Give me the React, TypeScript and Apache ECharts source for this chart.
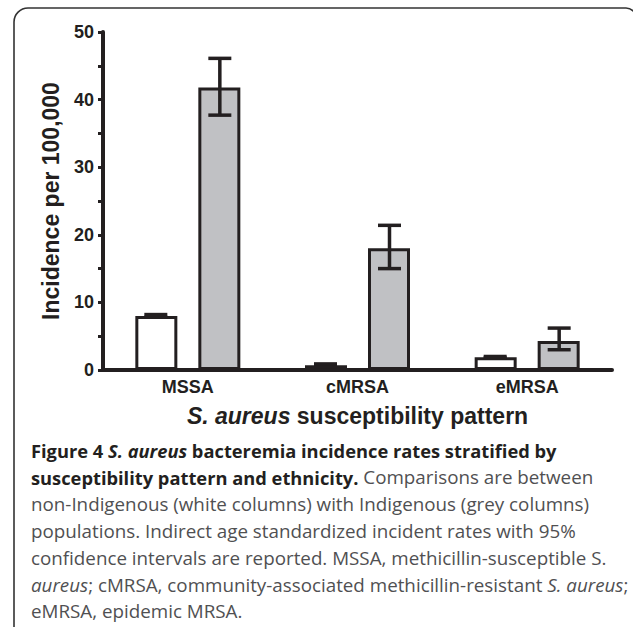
import React, { useEffect, useRef } from "react";
import * as echarts from "echarts";

const categories = ["MSSA", "cMRSA", "eMRSA"];
const nonIndigenous = [8.0, 0.7, 1.9];
const nonIndigenousLow = [7.8, 0.5, 1.8];
const nonIndigenousHigh = [8.2, 0.9, 2.0];
const indigenous = [41.8, 18.0, 4.3];
const indigenousLow = [37.7, 15.0, 3.0];
const indigenousHigh = [46.1, 21.4, 6.2];
const yTicks = { min: 0, max: 50, interval: 10 };

const captionLines: string[] = [
  "{b|Figure 4 }{bi|S. aureus}{b| bacteremia incidence rates stratified by}",
  "{b|susceptibility pattern and ethnicity.}{r| Comparisons are between}",
  "{r|non-Indigenous (white columns) with Indigenous (grey columns)}",
  "{r|populations. Indirect age standardized incident rates with 95%}",
  "{r|confidence intervals are reported. MSSA, methicillin-susceptible S.}",
  "{ri|aureus}{r|; cMRSA, community-associated methicillin-resistant }{ri|S. aureus}{r|;}",
  "{r|eMRSA, epidemic MRSA.}",
];

const INK = "#231f20";
const GREY = "#c0c1c4";
const CAP_FONT = "'Open Sans', sans-serif";
const B_SIZE = 18.3;
const R_SIZE = 18.8;

export default function App() {
  const ref = useRef<HTMLDivElement>(null);
  useEffect(() => {
    if (!ref.current) return;
    const chart = echarts.init(ref.current, undefined, { renderer: "svg" });
    const offsets = [-32, 32];
    const errData = (lo: number[], hi: number[]) =>
      categories.map((_, i) => [i, lo[i], hi[i]]);
    const makeErr = (si: number) => (params: any, api: any) => {
      const c = api.value(0);
      const lo = api.coord([c, api.value(1)]);
      const hi = api.coord([c, api.value(2)]);
      const x = lo[0] + offsets[si];
      const hw = 11.5;
      const st = { stroke: INK, lineWidth: 3.5 };
      return {
        type: "group",
        children: [
          { type: "line", shape: { x1: x, y1: lo[1], x2: x, y2: hi[1] }, style: st },
          { type: "line", shape: { x1: x - hw, y1: lo[1], x2: x + hw, y2: lo[1] }, style: st },
          { type: "line", shape: { x1: x - hw, y1: hi[1], x2: x + hw, y2: hi[1] }, style: st },
        ],
      };
    };
    const rich = {
      b: { fontFamily: CAP_FONT, fontSize: B_SIZE, fontWeight: "bold", fill: INK, lineHeight: 22 },
      bi: { fontFamily: CAP_FONT, fontSize: B_SIZE, fontWeight: "bold", fontStyle: "italic", fill: INK, lineHeight: 22 },
      r: { fontFamily: CAP_FONT, fontSize: R_SIZE, fill: "#505052", lineHeight: 22 },
      ri: { fontFamily: CAP_FONT, fontSize: R_SIZE, fontStyle: "italic", fill: "#505052", lineHeight: 22 },
    };
    const captionEls = captionLines.map((t, i) => ({
      type: "text",
      left: 31,
      top: 441 + i * 26.8,
      style: { text: t, rich, font: `${R_SIZE}px ${CAP_FONT}` },
    }));
    chart.setOption({
      animation: false,
      grid: { left: 103, right: 21, top: 32, bottom: 257, containLabel: false },
      xAxis: {
        type: "category",
        data: categories,
        axisLine: { show: true, lineStyle: { color: INK, width: 4 } },
        axisTick: { show: false },
        axisLabel: {
          margin: 8,
          color: INK,
          fontSize: 18,
          fontWeight: "bold",
          fontFamily: "'Liberation Sans', Arial, sans-serif",
        },
        name: "{i|S. aureus}{n| susceptibility pattern}",
        nameLocation: "middle",
        nameGap: 34,
        nameTextStyle: {
          rich: {
            i: { fontSize: 23, fontWeight: "bold", fontStyle: "italic", color: INK, fontFamily: "'Liberation Sans', Arial, sans-serif" },
            n: { fontSize: 23, fontWeight: "bold", color: INK, fontFamily: "'Liberation Sans', Arial, sans-serif" },
          },
        },
      },
      yAxis: {
        type: "value",
        min: yTicks.min,
        max: yTicks.max,
        interval: yTicks.interval,
        axisLine: { show: true, lineStyle: { color: INK, width: 4 } },
        axisTick: { show: true, length: 5, lineStyle: { color: INK, width: 3 } },
        minorTick: { show: true, splitNumber: 2, length: 5, lineStyle: { color: INK, width: 3 } },
        splitLine: { show: false },
        axisLabel: {
          margin: 9,
          color: INK,
          fontSize: 18,
          fontWeight: "bold",
          fontFamily: "'Liberation Sans', Arial, sans-serif",
        },
        name: "Incidence per 100,000",
        nameLocation: "middle",
        nameGap: 41,
        nameTextStyle: {
          fontSize: 23,
          fontWeight: "bold",
          color: INK,
          fontFamily: "'Liberation Sans', Arial, sans-serif",
        },
      },
      series: [
        {
          type: "bar",
          name: "non-Indigenous",
          data: nonIndigenous,
          barWidth: 42,
          barGap: "50%",
          itemStyle: { color: "#ffffff", borderColor: INK, borderWidth: 3 },
        },
        {
          type: "bar",
          name: "Indigenous",
          data: indigenous,
          barWidth: 42,
          barGap: "50%",
          itemStyle: { color: GREY, borderColor: INK, borderWidth: 3 },
        },
        {
          type: "custom",
          renderItem: makeErr(0),
          data: errData(nonIndigenousLow, nonIndigenousHigh),
          encode: { x: 0, y: [1, 2] },
          z: 5,
        },
        {
          type: "custom",
          renderItem: makeErr(1),
          data: errData(indigenousLow, indigenousHigh),
          encode: { x: 0, y: [1, 2] },
          z: 5,
        },
      ],
      graphic: [
        {
          type: "rect",
          shape: { x: 14, y: 8, width: 622, height: 700, r: [14, 10, 0, 0] },
          style: { fill: "none", stroke: "#333", lineWidth: 1.6 },
          silent: true,
        },
        ...captionEls,
      ],
    });
    return () => chart.dispose();
  }, []);
  return (
    <div
      ref={ref}
      style={{ position: "fixed", left: 0, top: 0, width: 633, height: 627, background: "#fff" }}
    />
  );
}
